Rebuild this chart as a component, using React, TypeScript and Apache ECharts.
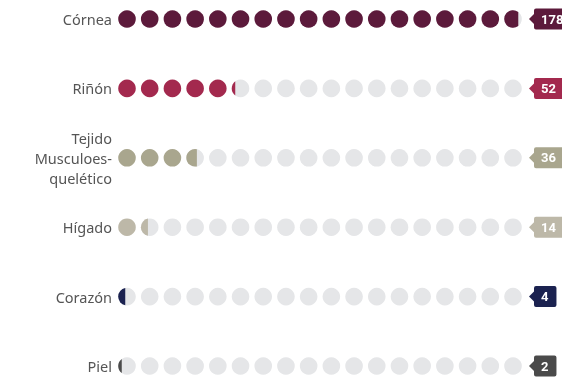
import React, { useEffect, useRef } from "react";
import * as echarts from "echarts";

const categories = ["Córnea", "Riñón", "Tejido\nMusculoes-\nquelético", "Hígado", "Corazón", "Piel"];
const values = [178, 52, 36, 14, 4, 2];
const colors = ["#5c1a3b", "#a3294e", "#a9a68e", "#bdb8a8", "#1b2250", "#4a4a4a"];
const dotCount = 18;
const unitPerDot = 10;
const dotIndices = Array.from({ length: dotCount }, (_, i) => i);

export default function App() {
  const ref = useRef<HTMLDivElement>(null);
  useEffect(() => {
    if (!ref.current) return;
    const chart = echarts.init(ref.current, undefined, { renderer: "svg" });
    const r = 8.8;
    const renderItem = (params: any, api: any) => {
      const row = params.dataIndex;
      const v = values[row];
      const color = colors[row];
      const children: any[] = [];
      dotIndices.forEach((i) => {
        const [cx, cy] = api.coord([i, row]);
        const f = Math.max(0, Math.min(1, v / unitPerDot - i));
        if (f >= 1) {
          children.push({ type: "circle", shape: { cx, cy, r }, style: { fill: color } });
        } else {
          children.push({ type: "circle", shape: { cx, cy, r }, style: { fill: "#e5e6e8" } });
          if (f > 0) {
            const dx = r * (2 * f - 1);
            const x0 = cx + dx;
            const h = Math.sqrt(Math.max(0, r * r - dx * dx));
            const large = f > 0.5 ? 1 : 0;
            const d = `M ${x0} ${cy - h} A ${r} ${r} 0 ${large} 0 ${x0} ${cy + h} Z`;
            children.push({ type: "path", shape: { pathData: d }, style: { fill: color } });
          }
        }
      });
      const [lx, ly] = api.coord([dotCount - 1, row]);
      const tip = lx + 16;
      children.push({
        type: "polygon",
        shape: { points: [[tip, ly], [tip + 6, ly - 6], [tip + 6, ly + 6]] },
        style: { fill: color },
      });
      children.push({
        type: "text",
        x: tip + 5,
        y: ly,
        style: {
          text: String(v),
          fill: "#ffffff",
          font: "bold 13px Roboto, sans-serif",
          align: "left",
          verticalAlign: "middle",
          backgroundColor: color,
          padding: [4, 8, 4, 7],
          borderRadius: 2,
        },
      });
      return { type: "group", children };
    };
    chart.setOption({
      animation: false,
      grid: { left: 127, right: 49, top: 19, bottom: 13 },
      xAxis: { type: "value", min: 0, max: dotCount - 1, show: false },
      yAxis: {
        type: "category",
        data: categories,
        inverse: true,
        boundaryGap: false,
        axisLine: { show: false },
        axisTick: { show: false },
        splitLine: { show: false },
        axisLabel: {
          color: "#555555",
          fontSize: 14.5,
          fontFamily: "'Noto Sans', sans-serif",
          margin: 15,
          lineHeight: 20,
          align: "right",
        },
      },
      series: [
        {
          type: "custom",
          renderItem,
          data: values.map((v, i) => [0, i, v]),
          encode: { x: 0, y: 1 },
          clip: false,
        },
      ],
    });
    return () => chart.dispose();
  }, []);
  return <div ref={ref} style={{ position: "fixed", left: 0, top: 0, width: 562, height: 379 }} />;
}
